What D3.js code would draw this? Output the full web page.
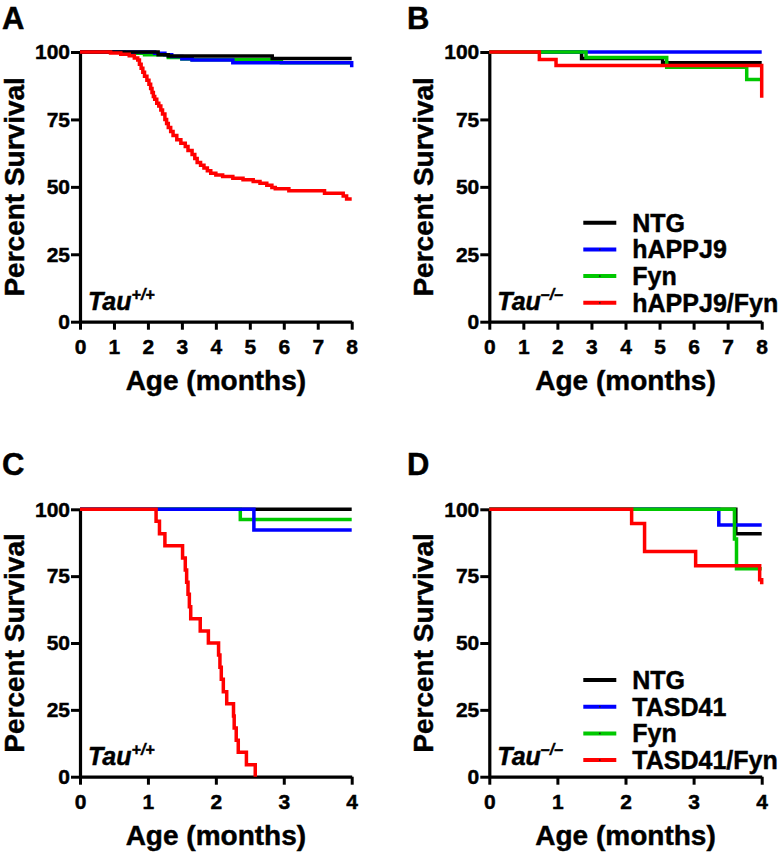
<!DOCTYPE html>
<html><head><meta charset="utf-8">
<script src="https://cdn.jsdelivr.net/npm/d3@7"></script>
<style>
body{margin:0;background:#fff}
text{font-family:"Liberation Sans",Arial,Helvetica,sans-serif;font-weight:bold;fill:#000;stroke:#000;stroke-width:0.45px}
</style>
</head><body>
<svg id="chart" width="783" height="853"></svg>
<script>
// ---------- data ----------
const yTicks = [0, 25, 50, 75, 100];
const xTicksAB = [0, 1, 2, 3, 4, 5, 6, 7, 8];
const xTicksCD = [0, 1, 2, 3, 4];
const seriesAB = ["NTG", "hAPPJ9", "Fyn", "hAPPJ9/Fyn"];
const seriesCD = ["NTG", "TASD41", "Fyn", "TASD41/Fyn"];
const seriesColors = ["#000000", "#0000ff", "#00c800", "#ff0000"];
const panelLetters = ["A", "B", "C", "D"];
const xTitle = "Age (months)";
const yTitle = "Percent Survival";

// Panel A (Tau+/+, hAPPJ9 crosses) : [age, percent survival]
const A_NTG = [[0,100],[2.3,99],[2.6,98.5],[5.66,97.6],[8,97.6]];
const A_hAPPJ9 = [[0,100],[2.2,99.5],[2.5,99],[2.7,98.3],[3.0,97.5],[3.3,97],[4.5,96],[8,94.3]];
const A_Fyn = [[0,100],[1.3,99.5],[1.9,99],[2.6,98],[3.0,97.4],[3.3,97.1],[5.93,96],[8,96]];
const A_hAPPJ9Fyn = [[0,100],[0.9,99.6],[1.2,99.2],[1.45,98.6],[1.6,97.8],[1.7,97],[1.75,95.5],[1.8,94],
  [1.85,92.5],[1.9,91],[1.97,89.5],[2.03,88],[2.08,86.5],[2.12,85],[2.16,83.5],[2.2,82.5],[2.26,81],
  [2.32,80],[2.38,78.5],[2.43,77],[2.5,75],[2.55,73.5],[2.6,72],[2.67,70.5],[2.74,69],[2.85,67.5],
  [2.97,66.2],[3.1,65],[3.18,63.5],[3.3,62],[3.38,60.5],[3.45,59],[3.55,58],[3.65,57],[3.75,56],
  [3.85,55],[4.0,54.4],[4.2,53.8],[4.5,53.2],[4.8,52.6],[5.1,52],[5.3,51.3],[5.5,50.6],[5.65,49.8],
  [5.75,49.3],[6.15,48.6],[7.2,47.6],[7.75,46.6],[7.85,45.5],[8,45.5]];

// Panel B (Tau-/-, hAPPJ9 crosses)
const B_NTG = [[0,100],[2.71,97.6],[5.09,96],[8,96]];
const B_hAPPJ9 = [[0,100],[8,100]];
const B_Fyn = [[0,100],[2.84,98],[5.21,94.3],[7.56,89.8],[8,89.8]];
const B_hAPPJ9Fyn = [[0,100],[1.47,97.2],[1.96,95],[8,83]];

// Panel C (Tau+/+, TASD41 crosses)
const C_NTG = [[0,100],[4,100]];
const C_TASD41 = [[0,100],[2.56,92.3],[4,92.3]];
const C_Fyn = [[0,100],[2.36,96.2],[4,96.2]];
const C_TASD41Fyn = [[0,100],[1.12,95.5],[1.17,90.9],[1.25,86.4],[1.51,81.8],[1.55,77.3],[1.57,72.7],
  [1.59,68.2],[1.61,63.6],[1.63,59.1],[1.77,54.5],[1.89,50.0],[2.04,45.5],[2.06,40.9],[2.08,36.4],
  [2.11,31.8],[2.16,27.3],[2.26,22.7],[2.27,18.2],[2.30,13.6],[2.33,9.1],[2.45,4.5],[2.58,0]];

// Panel D (Tau-/-, TASD41 crosses)
const D_NTG = [[0,100],[3.62,90.9],[4,90.9]];
const D_TASD41 = [[0,100],[3.37,94.1],[4,94.1]];
const D_Fyn = [[0,100],[3.6,88.9],[3.63,77.8],[4,77.8]];
const D_TASD41Fyn = [[0,100],[2.09,94.7],[2.28,84.2],[3.03,78.9],[3.97,73.7],[4,72]];

// ---------- layout ----------
const panels = [
  {letter:panelLetters[0], lx:2, ly:29, left:80, right:351.7, top:52, bottom:321.7, xMax:8, xTicks:xTicksAB,
   curves:[A_Fyn, A_hAPPJ9, A_NTG, A_hAPPJ9Fyn], colorIdx:[2,1,0,3], tau:"+/+", legend:null},
  {letter:panelLetters[1], lx:407, ly:29, left:489.3, right:761.7, top:52, bottom:321.7, xMax:8, xTicks:xTicksAB,
   curves:[B_NTG, B_hAPPJ9, B_Fyn, B_hAPPJ9Fyn], colorIdx:[0,1,2,3], tau:"\u2013/\u2013", legend:seriesAB},
  {letter:panelLetters[2], lx:2, ly:475, left:80, right:351.7, top:509.3, bottom:776.7, xMax:4, xTicks:xTicksCD,
   curves:[C_NTG, C_Fyn, C_TASD41, C_TASD41Fyn], colorIdx:[0,2,1,3], tau:"+/+", legend:null},
  {letter:panelLetters[3], lx:407, ly:475, left:489.3, right:761.7, top:509.3, bottom:776.7, xMax:4, xTicks:xTicksCD,
   curves:[D_NTG, D_TASD41, D_Fyn, D_TASD41Fyn], colorIdx:[0,1,2,3], tau:"\u2013/\u2013", legend:seriesCD}
];

const svg = d3.select("#chart");

panels.forEach(p => {
  const x = d3.scaleLinear().domain([0, p.xMax]).range([p.left, p.right]);
  const y = d3.scaleLinear().domain([0, 100]).range([p.bottom, p.top]);
  const g = svg.append("g");

  // panel letter
  g.append("text").attr("x", p.lx).attr("y", p.ly).attr("font-size", 31).text(p.letter);

  // axes
  const yAxis = d3.axisLeft(y).tickValues(yTicks).tickSize(9).tickSizeOuter(0).tickPadding(1).tickFormat(d3.format("d"));
  const xAxis = d3.axisBottom(x).tickValues(p.xTicks).tickSize(8).tickSizeOuter(0).tickPadding(9).tickFormat(d3.format("d"));
  const ya = g.append("g").attr("transform", `translate(${p.left},0)`).call(yAxis);
  const xa = g.append("g").attr("transform", `translate(0,${p.bottom})`).call(xAxis);
  [ya, xa].forEach(a => {
    a.select(".domain").attr("stroke", "#000").attr("stroke-width", 3.2);
    a.selectAll(".tick line").attr("stroke", "#000").attr("stroke-width", 3);
    a.selectAll(".tick text").attr("font-size", 21).attr("font-family", null).attr("fill", "#000");
  });

  // axis titles
  g.append("text").attr("x", (p.left + p.right) / 2).attr("y", p.bottom + 68)
    .attr("text-anchor", "middle").attr("font-size", 28).text(xTitle);
  g.append("text").attr("transform", `translate(${p.left - 56},${(p.top + p.bottom) / 2}) rotate(-90)`)
    .attr("text-anchor", "middle").attr("font-size", 28).text(yTitle);

  // survival curves
  const line = d3.line().x(d => x(d[0])).y(d => y(d[1])).curve(d3.curveStepAfter);
  p.curves.forEach((c, i) => {
    g.append("path").datum(c).attr("d", line).attr("fill", "none")
      .attr("stroke", seriesColors[p.colorIdx[i]]).attr("stroke-width", 3.5);
  });

  // genotype label
  const t = g.append("text").attr("x", p.left + 8).attr("y", p.bottom - 12)
    .attr("font-size", 25).attr("font-style", "italic");
  t.append("tspan").text("Tau");
  t.append("tspan").attr("dy", -10).attr("font-size", 16).text(p.tau);

  // legend
  if (p.legend) {
    const ly0 = p.top + 170.7;
    p.legend.forEach((name, i) => {
      const yy = ly0 + i * 26.7;
      const x1 = p.left + 94, x2 = p.left + 127;
      g.append("line").attr("x1", x1).attr("x2", x2).attr("y1", yy).attr("y2", yy)
        .attr("stroke", seriesColors[i]).attr("stroke-width", 4);
      if (i > 0) {
        g.append("circle").attr("cx", (x1 + x2) / 2).attr("cy", yy).attr("r", 0.9).attr("fill", "#222");
      }
      g.append("text").attr("x", p.left + 143).attr("y", yy + 9).attr("font-size", 25).text(name);
    });
  }
});
</script>
</body></html>
